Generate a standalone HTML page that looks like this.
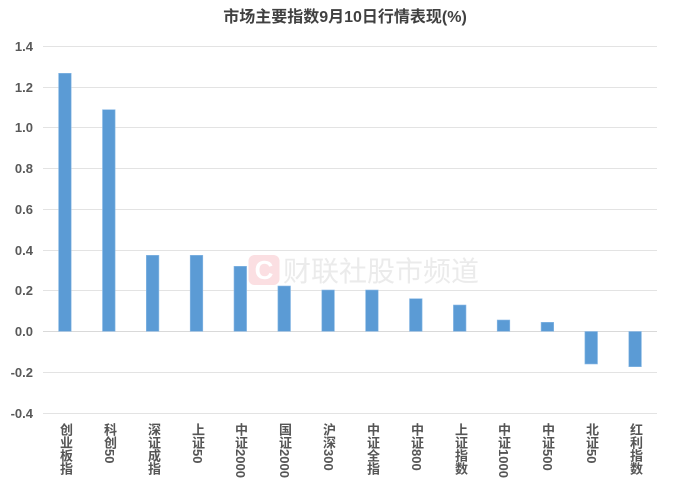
<!DOCTYPE html>
<html>
<head>
<meta charset="utf-8">
<style>
html,body{margin:0;padding:0;background:#fff;}
#c{position:relative;width:692px;height:487px;overflow:hidden;background:#fff;font-family:"Liberation Sans","Noto Sans CJK SC",sans-serif;}
svg{position:absolute;left:0;top:0;}
.xl{position:absolute;top:423px;writing-mode:vertical-rl;font-size:13px;font-weight:bold;color:#555555;line-height:14px;width:14px;font-family:"Liberation Sans","Noto Sans CJK SC",sans-serif;}
</style>
</head>
<body>
<div id="c">
<svg width="692" height="487" viewBox="0 0 692 487">
  <!-- watermark -->
  <rect x="248.5" y="255" width="31" height="30" rx="6" fill="#fbdfe2"/>
  <text x="264" y="279" text-anchor="middle" font-family="Liberation Sans, sans-serif" font-weight="bold" font-size="26" fill="#ffffff">C</text>
  <text x="283" y="281" font-family="Liberation Sans, Noto Sans CJK SC, sans-serif" font-size="28" fill="#ebebeb">财联社股市频道</text>
  <!-- gridlines -->
  <g stroke="#e3e3e3" stroke-width="1">
    <line x1="43" x2="657" y1="46.5" y2="46.5"/>
    <line x1="43" x2="657" y1="87.5" y2="87.5"/>
    <line x1="43" x2="657" y1="127.5" y2="127.5"/>
    <line x1="43" x2="657" y1="168.5" y2="168.5"/>
    <line x1="43" x2="657" y1="209.5" y2="209.5"/>
    <line x1="43" x2="657" y1="250.5" y2="250.5"/>
    <line x1="43" x2="657" y1="290.5" y2="290.5"/>
    <line x1="43" x2="657" y1="372.5" y2="372.5"/>
    <line x1="43" x2="657" y1="413.5" y2="413.5"/>
  </g>
  <line x1="43" x2="657" y1="331.5" y2="331.5" stroke="#d9d9d9" stroke-width="1"/>
  <!-- y labels -->
  <g font-family="Liberation Sans, sans-serif" font-size="13" font-weight="bold" fill="#595959" text-anchor="end">
    <text x="33" y="51">1.4</text>
    <text x="33" y="92">1.2</text>
    <text x="33" y="132">1.0</text>
    <text x="33" y="173">0.8</text>
    <text x="33" y="214">0.6</text>
    <text x="33" y="255">0.4</text>
    <text x="33" y="295">0.2</text>
    <text x="33" y="336">0.0</text>
    <text x="33" y="377">-0.2</text>
    <text x="33" y="418">-0.4</text>
  </g>
  <!-- bars -->
  <g fill="#5b9bd5" stroke="#8dbbe6" stroke-width="0.6">
    <rect x="58.6" y="73.3" width="12.6" height="258"/>
    <rect x="102.5" y="109.7" width="12.6" height="221.6"/>
    <rect x="146.3" y="255.3" width="12.6" height="76"/>
    <rect x="190.2" y="255.3" width="12.6" height="76"/>
    <rect x="234.0" y="266.3" width="12.6" height="65"/>
    <rect x="277.9" y="286" width="12.6" height="45.3"/>
    <rect x="321.8" y="290" width="12.6" height="41.3"/>
    <rect x="365.6" y="290" width="12.6" height="41.3"/>
    <rect x="409.5" y="298.7" width="12.6" height="32.6"/>
    <rect x="453.4" y="305" width="12.6" height="26.3"/>
    <rect x="497.2" y="320" width="12.6" height="11.3"/>
    <rect x="541.1" y="322.3" width="12.6" height="9"/>
    <rect x="584.9" y="331.5" width="12.6" height="32.5"/>
    <rect x="628.8" y="331.5" width="12.6" height="35.2"/>
  </g>
  <!-- title -->
  <text x="345" y="22" text-anchor="middle" font-family="Liberation Sans, Noto Sans CJK SC, sans-serif" font-size="16" font-weight="bold" fill="#404040">市场主要指数9月10日行情表现(%)</text>
</svg>
<div class="xl" style="left:58px">创业板指</div>
<div class="xl" style="left:102px">科创50</div>
<div class="xl" style="left:146px">深证成指</div>
<div class="xl" style="left:190px">上证50</div>
<div class="xl" style="left:233px">中证2000</div>
<div class="xl" style="left:277px">国证2000</div>
<div class="xl" style="left:321px">沪深300</div>
<div class="xl" style="left:365px">中证全指</div>
<div class="xl" style="left:409px">中证800</div>
<div class="xl" style="left:453px">上证指数</div>
<div class="xl" style="left:496px">中证1000</div>
<div class="xl" style="left:540px">中证500</div>
<div class="xl" style="left:584px">北证50</div>
<div class="xl" style="left:628px">红利指数</div>
</div>
</body>
</html>
